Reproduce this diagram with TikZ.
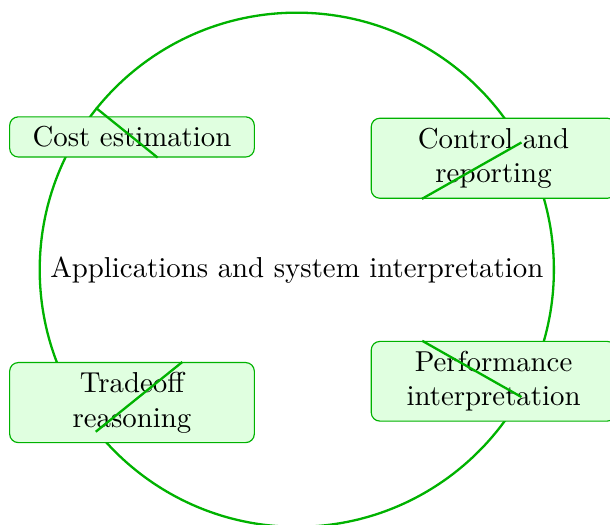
\documentclass[tikz,border=0pt]{standalone}
\usepackage{tikz}
\usetikzlibrary{positioning}

\begin{document}
\begin{tikzpicture}[
    hub/.style={circle, draw=green!70!black, thick},
    bx/.style={draw=green!70!black, rounded corners=3pt, fill=green!12,
      text width=2.75cm, align=center},
    ed/.style={-, green!70!black, thick}
  ]
    \useasboundingbox (-3.62,-3.11) rectangle (3.82,3.29);
    % ---- hub ----
    \node[hub] (app) at (0,0) {Applications and system interpretation};
    % ---- boxes ----
    \node[bx] (cost) at (-2.01, 1.62) {Cost estimation};
    \node[bx] (ctrl) at ( 2.40, 1.36) {Control and reporting};
    \node[bx] (perf) at ( 2.40,-1.36) {Performance interpretation};
    \node[bx] (trade) at (-2.01,-1.62) {Tradeoff reasoning};
    \foreach \n in {cost,ctrl,perf,trade} \draw[ed] (app)--(\n);
  \end{tikzpicture}
\end{document}
